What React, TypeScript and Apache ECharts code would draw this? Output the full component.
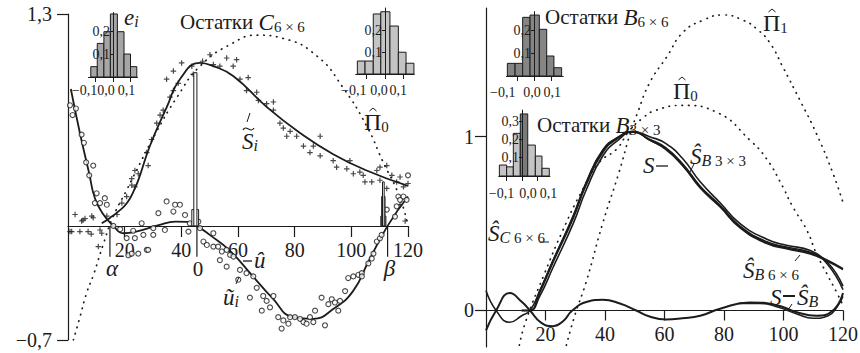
import React, { useEffect, useRef } from "react";
import * as echarts from "echarts";

const FONT = "'Liberation Serif', 'DejaVu Serif', 'Times New Roman', serif";
const INK = "#1c1c1c";

// ---------------- Left panel data ----------------
const leftXTicks = [20, 40, 60, 80, 100, 120];
const leftYTicks = [-0.7, 1.3];

const sHatLeftX = [11.9, 14.8, 17.6, 20.8, 23.6, 25.4, 28.9, 34.9, 39.5, 46.6, 51.3, 58.3, 70.1, 81.9, 93.6, 105.4, 120];
const sHatLeftY = [0.016, 0.049, 0.086, 0.14, 0.23, 0.31, 0.49, 0.73, 0.9, 1.0, 0.98, 0.92, 0.73, 0.57, 0.44, 0.34, 0.245];

const uHatX = [1, 4.2, 7.5, 9.5, 12.5, 16, 19.5, 24, 32, 38, 42, 45.4, 50, 57, 65.3, 72, 79.5, 86.5, 93.6, 100.6, 106, 112.8, 120];
const uHatY = [0.84, 0.57, 0.32, 0.17, 0.07, 0, -0.045, -0.035, 0.005, 0.026, 0.025, 0, -0.055, -0.15, -0.31, -0.44, -0.56, -0.57, -0.51, -0.4, -0.22, 0, 0.18];

const pi0LeftX = [1.9, 4.2, 6.6, 9, 12.5, 16, 20.7, 23, 31, 38.5, 46.6, 58, 66.7, 76, 88, 97, 105.5, 111, 117, 120];
const pi0LeftY = [-0.7, -0.56, -0.41, -0.3, -0.11, 0.06, 0.22, 0.3, 0.57, 0.79, 0.98, 1.12, 1.17, 1.15, 1.04, 0.85, 0.61, 0.4, 0.18, 0.0];

const sTildePoints = [
  [0.7, -0.035], [1.3, -0.035], [2.5, 0.07], [4.2, -0.035], [4.8, 0.03], [5.3, 0.035], [6, 0.045], [7.1, -0.035],
  [8.2, -0.05], [8.4, 0.06], [8.9, 0.05], [10.7, -0.127], [11.3, -0.025], [11.9, -0.045], [13.7, 0.06], [17.3, 0.07],
  [19, 0.14], [20.7, 0.18], [22.5, 0.25], [22.5, 0.29], [23.6, 0.24], [23.6, 0.34], [24.8, 0.32], [27.8, 0.45],
  [28.3, 0.37], [29.5, 0.53], [31.3, 0.63], [32.5, 0.68], [33.6, 0.71], [34.8, 0.9], [36, 0.79], [37.2, 0.83],
  [37.2, 0.95], [38.9, 0.875], [40.1, 1.0], [43.7, 0.98], [44.2, 0.93], [47.5, 1.01], [50.1, 1.05], [51.3, 0.99],
  [53.6, 0.98], [56, 1.03], [58.3, 0.98], [59.5, 1.02], [60.7, 0.9], [63, 0.83], [63.6, 0.91], [66.6, 0.82],
  [67.2, 0.77], [70.1, 0.75], [72.5, 0.76], [72.5, 0.71], [74.8, 0.63], [76, 0.6], [77.2, 0.55], [78.4, 0.58],
  [80.7, 0.55], [83.1, 0.49], [85.4, 0.45], [86.6, 0.49], [89, 0.55], [89, 0.43], [93.6, 0.4], [94.8, 0.36],
  [98.4, 0.35], [99.5, 0.4], [100.7, 0.32], [103, 0.33], [104.2, 0.31], [104.8, 0.27], [107.2, 0.27], [109, 0.34],
  [110.1, 0.36], [110.1, 0.28], [112.5, 0.37], [112.5, 0.23], [114.3, 0.31], [116, 0.27], [117.2, 0.3], [117.2, 0.13],
  [118.4, 0.24], [119, 0.03], [120, 0.26],
];

const uTildePoints = [
  [0.7, 0.74], [1.6, 0.68], [2.8, 0.72], [4.8, 0.56], [5.6, 0.51], [6.4, 0.39], [7.5, 0.31], [8.9, 0.37],
  [9.5, 0.14], [10.1, 0.2], [11.3, 0.14], [13, 0.17], [13.7, 0.13], [16, 0], [18.4, -0.02], [20.7, -0.075],
  [21.3, -0.18], [22.5, -0.17], [23, -0.03], [23.6, -0.075], [24.8, -0.17], [26, 0.016], [26.6, -0.055], [27.8, -0.147],
  [28.3, -0.147], [30.1, -0.055], [30.1, -0.014], [31.9, 0.078], [34.2, -0.025], [34.8, 0.15], [37.2, 0.088], [37.8, 0.13],
  [39.5, 0.13], [41.3, 0.067], [42.5, -0.035], [43, 0.016], [46, 0.026], [46.6, -0.014], [47.8, -0.096], [49, -0.117],
  [51.3, -0.045], [51.3, -0.127], [53, -0.127], [53.6, -0.21], [54.3, -0.157], [56, -0.147], [56, -0.25], [57.2, -0.178],
  [58.4, -0.188], [60.1, -0.33], [60.7, -0.27], [63, -0.29], [64.2, -0.44], [65.4, -0.31], [66.6, -0.38], [68.4, -0.52],
  [68.9, -0.43], [70.1, -0.46], [71.3, -0.5], [72.5, -0.43], [74.2, -0.56], [75.4, -0.63], [76, -0.58], [77.8, -0.6],
  [78.4, -0.56], [80.1, -0.56], [81.9, -0.57], [83.1, -0.59], [84.2, -0.6], [85.4, -0.56], [86.6, -0.59], [87.2, -0.52],
  [89.5, -0.44], [90.7, -0.61], [91.9, -0.48], [93.1, -0.45], [94.2, -0.47], [95.4, -0.52], [96, -0.46], [97.8, -0.4],
  [98.9, -0.32], [100.7, -0.31], [102.5, -0.3], [103.7, -0.29], [103.7, -0.31], [106, -0.23], [107.2, -0.2], [107.8, -0.17],
  [109, -0.096], [110.1, -0.076], [110.7, -0.055], [112.5, 0.1], [115.4, 0.057], [116, 0.12], [116.6, 0.18], [117.2, 0.16],
  [118.4, 0.18], [119.5, 0.16], [120, 0.31],
];

// spike bars: [x0, x1, height]
const spikeBars = [
  [43.7, 46.1, 0.1], [44.4, 45.5, 0.94],
  [110.4, 112.2, 0.06], [110.7, 111.9, 0.18], [111.0, 111.6, 0.27],
];
const markerX = [14.8, 45.5, 112.8];
const markerLabels = ["α", "0", "β"];

// ---------------- Right panel data ----------------
const rightXTicks = [20, 40, 60, 80, 100, 120];
const rightYTicks = [0, 1];

const bundleX = [14.8, 18, 22.6, 29.3, 33.6, 39.3, 44.7, 49.4, 55, 60.5, 66.3, 72, 78.7, 85.4, 94.4, 101, 109, 114.6, 120];
const sTrueY = [0, 0.11, 0.29, 0.54, 0.73, 0.92, 1.0, 1.03, 0.98, 0.93, 0.83, 0.71, 0.6, 0.48, 0.39, 0.36, 0.33, 0.29, 0.24];
const sB33Y = [0, 0.08, 0.25, 0.5, 0.69, 0.89, 0.985, 1.03, 1.0, 0.96, 0.87, 0.74, 0.62, 0.5, 0.41, 0.375, 0.345, 0.27, 0.12];
const sB66Y = [0, 0.1, 0.28, 0.53, 0.72, 0.91, 0.995, 1.025, 0.985, 0.935, 0.84, 0.715, 0.605, 0.485, 0.395, 0.365, 0.335, 0.28, 0.14];
const sC66StartX = [0, 3.4, 8, 12];
const sC66StartY = [0.115, 0, -0.068, -0.03];
const sC66Y = [0, 0.11, 0.29, 0.545, 0.735, 0.925, 1.0, 1.03, 0.98, 0.925, 0.83, 0.705, 0.595, 0.475, 0.385, 0.355, 0.325, 0.285, 0.235];

const residX = [0, 3.4, 8, 12, 14.8, 18.5, 22.6, 26, 29, 34, 39.3, 45, 50.5, 55, 60.5, 66, 72, 78.7, 88.7, 97.8, 104.5, 111, 116.6, 120];
const residY = [-0.115, 0, 0.1, 0.05, 0, -0.07, -0.09, -0.06, 0, 0.05, 0.062, 0.04, 0, -0.035, -0.052, -0.045, -0.03, 0.01, 0.046, 0.03, -0.01, -0.03, 0, 0.1];
const resid2X = [85, 92, 98, 104.5, 110, 115, 118, 120];
const resid2Y = [0.04, 0.04, 0.02, -0.02, -0.045, -0.03, 0.02, 0.08];

const pi0RightX = [11.2, 13.4, 19.6, 25.8, 32, 38, 44, 48, 52.9, 56.8, 66, 77.6, 88.7, 94.4, 99.8, 103, 107.9, 111, 114.6, 118, 120];
const pi0RightY = [-0.2, -0.06, 0.21, 0.46, 0.68, 0.85, 0.93, 1.03, 1.11, 1.15, 1.18, 1.14, 0.98, 0.87, 0.71, 0.6, 0.46, 0.33, 0.21, 0.1, 0.03];
const pi1RightX = [27, 30, 33.6, 39.2, 44.8, 48.5, 51, 55, 60.8, 66.2, 73, 79.7, 86.4, 91, 95.4, 99.8, 105.5, 111, 116.6, 120];
const pi1RightY = [-0.2, -0.02, 0.16, 0.5, 0.8, 1.02, 1.14, 1.31, 1.46, 1.6, 1.67, 1.7, 1.67, 1.62, 1.54, 1.4, 1.21, 1.02, 0.79, 0.62];

// ---------------- Inset histograms ----------------
const histTicks = [-0.1, 0, 0.1];
const histL1Edges = [-0.127, -0.09, -0.052, -0.015, 0.025, 0.063, 0.1, 0.136];
const histL1Heights = [0.045, 0.146, 0.197, 0.274, 0.197, 0.1, 0.045];
const histL2Edges = [-0.151, -0.109, -0.064, -0.023, 0.027, 0.073, 0.115, 0.158];
const histL2Heights = [0.059, 0.059, 0.273, 0.283, 0.218, 0.099, 0.049];
const histR1Edges = [-0.155, -0.11, -0.066, -0.023, 0.031, 0.074, 0.116, 0.161];
const histR1Heights = [0.055, 0.055, 0.255, 0.265, 0.203, 0.087, 0.036];
const histR2Edges = [-0.146, -0.099, -0.056, -0.011, 0.037, 0.086, 0.129, 0.176];
const histR2Heights = [0.06, 0.05, 0.233, 0.339, 0.169, 0.109, 0.042];

const zip = (xs: number[], ys: number[]) => xs.map((x, i) => [x, ys[i]]);
const fmtNum = (v: number) => (v < 0 ? "−" : "") + Math.abs(v).toFixed(1).replace(".", ",");

const RICH: any = {
  r: { fontFamily: FONT, fontSize: 21, fill: INK, lineHeight: 24 },
  p: { fontFamily: FONT, fontSize: 24, fill: INK, lineHeight: 24 },
  i: { fontFamily: FONT, fontSize: 23, fill: INK, fontStyle: "italic", lineHeight: 24 },
  s: { fontFamily: FONT, fontSize: 15, fill: INK, lineHeight: 12, verticalAlign: "bottom" },
  si: { fontFamily: FONT, fontSize: 16, fill: INK, fontStyle: "italic", lineHeight: 12, verticalAlign: "bottom" },
};

const txt = (x: number, y: number, text: string) => ({
  type: "text",
  x,
  y,
  z: 100,
  style: { text, rich: RICH, verticalAlign: "middle", align: "left", fill: INK, fontFamily: FONT, fontSize: 21 },
});
const seg = (x1: number, y1: number, x2: number, y2: number, w = 1) => ({
  type: "line",
  z: 100,
  shape: { x1, y1, x2, y2 },
  style: { stroke: INK, lineWidth: w },
});
const hat = (cx: number, cy: number, w = 7, h = 3) => ({
  type: "polyline",
  z: 100,
  shape: { points: [[cx - w / 2, cy + h], [cx, cy], [cx + w / 2, cy + h]] },
  style: { stroke: INK, lineWidth: 1, fill: "none" },
});

function mainAxes(gridIndex: number, xTicks: number[], yTicks: number[], yMin: number, yMax: number, yMargin: number, xMargin: number, tickLen: number, xOffset: number) {
  const x = {
    type: "value", gridIndex, min: 0, max: 120, position: "bottom", offset: xOffset,
    axisLine: { show: true, onZero: false, lineStyle: { color: INK, width: 1.2 } },
    axisTick: { show: true, customValues: xTicks, length: tickLen, lineStyle: { color: INK, width: 1.2 } },
    axisLabel: { customValues: xTicks, color: INK, fontFamily: FONT, fontSize: 20, margin: xMargin, hideOverlap: false },
    splitLine: { show: false },
  };
  const y = {
    type: "value", gridIndex, min: yMin, max: yMax,
    axisLine: { show: true, onZero: false, lineStyle: { color: INK, width: 1.2 } },
    axisTick: { show: true, customValues: yTicks, length: 11, lineStyle: { color: INK, width: 1.2 } },
    axisLabel: { customValues: yTicks, color: INK, fontFamily: FONT, fontSize: 20, margin: yMargin, hideOverlap: false, formatter: (v: number) => (Number.isInteger(v) ? String(v) : fmtNum(v)) },
    splitLine: { show: false },
  };
  return { x, y };
}

function insetAxes(gridIndex: number, xMin: number, xMax: number, yMax: number, yTicks: number[], yOffset: number) {
  const x = {
    type: "value", gridIndex, min: xMin, max: xMax,
    axisLine: { show: true, onZero: false, lineStyle: { color: INK, width: 1 } },
    axisTick: { show: true, customValues: histTicks, length: 5, lineStyle: { color: INK } },
    axisLabel: { show: false },
    splitLine: { show: false },
  };
  const y = {
    type: "value", gridIndex, min: 0, max: yMax, z: 10, position: "left", offset: yOffset,
    axisLine: { show: true, onZero: false, lineStyle: { color: INK, width: 1 } },
    axisTick: { show: true, customValues: yTicks, length: 3, lineStyle: { color: INK } },
    axisLabel: { customValues: yTicks, color: INK, fontFamily: FONT, fontSize: 14, margin: 3, hideOverlap: false, formatter: (v: number) => fmtNum(v) },
    splitLine: { show: false },
  };
  return { x, y };
}

// tick labels of an inset's x axis, placed through the inset's own scale (shift = per-label nudge in px)
function histTickLabels(idx: number, gap: number, shift: number[]) {
  return {
    type: "custom",
    xAxisIndex: idx,
    yAxisIndex: idx,
    z: 20,
    clip: false,
    silent: true,
    encode: { x: 0, y: 1 },
    data: histTicks.map((v) => [v, 0]),
    renderItem: (params: any, api: any) => {
      const v = api.value(0);
      const p = api.coord([v, 0]);
      return {
        type: "text",
        style: {
          text: fmtNum(v), x: p[0] + shift[params.dataIndex], y: p[1] + gap, align: "center", verticalAlign: "middle",
          fontFamily: FONT, fontSize: 14, fill: INK,
        },
      };
    },
  };
}

function histSeries(idx: number, edges: number[], heights: number[], fills: string[]) {
  return {
    type: "custom",
    xAxisIndex: idx,
    yAxisIndex: idx,
    z: 3,
    encode: { x: [0, 1], y: 2 },
    data: heights.map((h, i) => [edges[i], edges[i + 1], h]),
    renderItem: (params: any, api: any) => {
      const a = api.coord([api.value(0), 0]);
      const b = api.coord([api.value(1), api.value(2)]);
      return {
        type: "rect",
        shape: { x: a[0], y: b[1], width: b[0] - a[0], height: a[1] - b[1] },
        style: { fill: fills[params.dataIndex], stroke: INK, lineWidth: 1 },
      };
    },
  };
}

const solid = (idx: number, data: number[][], width = 1.8) => ({
  type: "line", xAxisIndex: idx, yAxisIndex: idx, data, smooth: 0.5, showSymbol: false, symbol: "none",
  lineStyle: { color: INK, width }, z: 4,
});
const dotted = (idx: number, data: number[][]) => ({
  type: "line", xAxisIndex: idx, yAxisIndex: idx, data, smooth: 0.5, showSymbol: false, symbol: "none",
  lineStyle: { color: INK, width: 1.7, type: [0.5, 6], cap: "round" }, z: 3,
});

export default function App() {
  const ref = useRef<HTMLDivElement>(null);
  useEffect(() => {
    if (!ref.current) return;
    const chart = echarts.init(ref.current, undefined, { renderer: "svg" });

    const L = mainAxes(0, leftXTicks, leftYTicks, -0.7, 1.3, 16, 14, 11, -114);
    const R = mainAxes(1, rightXTicks, rightYTicks, -0.21, 1.74, 12, 13, 10, -36.5);
    const L1 = insetAxes(2, -0.14, 0.14, 0.28, [0.1, 0.2], -24.5);
    const L2 = insetAxes(3, -0.16, 0.16, 0.3, [0.1, 0.2], -29.3);
    const R1 = insetAxes(4, -0.16, 0.17, 0.28, [0.1, 0.2], -27.5);
    const R2 = insetAxes(5, -0.15, 0.18, 0.36, [0.1, 0.2, 0.3], -23.25);

    const light = "#c4c4c4";
    const g = (left: number, right: number, top: number, bottom: number) => ({
      left, right, top, bottom, containLabel: false, outerBoundsMode: "none",
    });
    const option: any = {
      animation: false,
      backgroundColor: "#ffffff",
      grid: [
        g(68, 452, 14, 13),
        g(486, 17, 8, 6),
        g(88.5, 860 - 137.5, 12.6, 353 - 77),
        g(355.7, 860 - 414.3, 8, 353 - 74),
        g(506.5, 860 - 563.2, 11.6, 353 - 76),
        g(498.75, 860 - 549.9, 110.1, 353 - 176),
      ],
      xAxis: [L.x, R.x, L1.x, L2.x, R1.x, R2.x],
      yAxis: [L.y, R.y, L1.y, L2.y, R1.y, R2.y],
      series: [
        // left panel
        dotted(0, zip(pi0LeftX, pi0LeftY)),
        solid(0, zip(sHatLeftX, sHatLeftY)),
        solid(0, zip(uHatX, uHatY)),
        {
          type: "scatter", xAxisIndex: 0, yAxisIndex: 0, data: sTildePoints, z: 5,
          symbol: "path://M0,5L10,5M5,0L5,10", symbolSize: 5.5,
          itemStyle: { color: "rgba(0,0,0,0)", borderColor: INK, borderWidth: 1.2 },
        },
        {
          type: "scatter", xAxisIndex: 0, yAxisIndex: 0, data: uTildePoints, z: 5,
          symbol: "circle", symbolSize: 5,
          itemStyle: { color: "#ffffff", borderColor: INK, borderWidth: 1.1 },
        },
        {
          type: "custom", xAxisIndex: 0, yAxisIndex: 0, z: 6, encode: { x: [0, 1], y: 2 },
          data: spikeBars,
          renderItem: (params: any, api: any) => {
            const a = api.coord([api.value(0), 0]);
            const b = api.coord([api.value(1), api.value(2)]);
            return {
              type: "rect",
              shape: { x: a[0], y: b[1], width: b[0] - a[0], height: a[1] - b[1] },
              style: { fill: "#ffffff", stroke: INK, lineWidth: 1 },
            };
          },
        },
        {
          type: "custom", xAxisIndex: 0, yAxisIndex: 0, z: 6, encode: { x: 0, y: 1 },
          data: markerX.map((x) => [x, 0]),
          renderItem: (params: any, api: any) => {
            const a = api.coord([api.value(0), 0]);
            const b = api.coord([api.value(0), -0.19]);
            const lab = markerLabels[params.dataIndex];
            return {
              type: "group",
              children: [
                { type: "line", shape: { x1: a[0], y1: a[1], x2: b[0], y2: b[1] }, style: { stroke: INK, lineWidth: 1.2 } },
                {
                  type: "text",
                  style: {
                    text: lab, x: b[0] + (lab === "0" ? 1 : 2), y: b[1] + 12, align: "center", verticalAlign: "middle",
                    fontFamily: FONT, fontSize: lab === "0" ? 21 : 23, fontStyle: lab === "0" ? "normal" : "italic", fill: INK,
                  },
                },
              ],
            };
          },
        },
        // right panel
        dotted(1, zip(pi0RightX, pi0RightY)),
        dotted(1, zip(pi1RightX, pi1RightY)),
        solid(1, [[12, 0], ...zip(bundleX, sTrueY)], 1.6),
        solid(1, [[12, 0], ...zip(bundleX, sB33Y)], 1.6),
        solid(1, [[12, 0], ...zip(bundleX, sB66Y)], 1.6),
        solid(1, [...zip(sC66StartX, sC66StartY), ...zip(bundleX, sC66Y)], 1.6),
        solid(1, zip(residX, residY), 2),
        solid(1, zip(resid2X, resid2Y), 1.5),
        // insets
        histSeries(2, histL1Edges, histL1Heights, histL1Heights.map(() => "#a6a6a6")),
        histSeries(3, histL2Edges, histL2Heights, histL2Heights.map(() => light)),
        histSeries(4, histR1Edges, histR1Heights, histR1Heights.map(() => "#858585")),
        histSeries(5, histR2Edges, histR2Heights, histR2Heights.map((_, i) => (i === 3 ? "#7a7a7a" : light))),
        histTickLabels(2, 13, [-11, -7, -4]),
        histTickLabels(3, 16, [-13, -6, -5]),
        histTickLabels(4, 16, [-14, -2, 1]),
        histTickLabels(5, 17, [-5, 6, 11]),
      ],
      graphic: [
        // left annotations
        txt(180, 22, "{r|Остатки }{i|C}{s|6 × 6}"),
        txt(124, 17, "{i|e}{si|i}"),
        txt(242, 141, "{i|S}{si|i}"),
        {
          type: "bezierCurve", z: 100,
          shape: { x1: 243, y1: 130, x2: 254, y2: 128, cpx1: 246, cpy1: 124, cpx2: 251, cpy2: 134 },
          style: { stroke: INK, lineWidth: 1.2, fill: "none" },
        },
        seg(247, 122, 250, 113),
        txt(364, 122, "{p|Π}{s|0}"),
        hat(373, 108),
        txt(254, 260, "{i|û}"),
        seg(243, 261, 252, 261, 1.3),
        txt(223, 297, "{i|ũ}{si|i}"),
        seg(236, 284, 239, 277),
        // right annotations
        txt(545, 17, "{r|Остатки }{i|B}{s|6 × 6}"),
        txt(537, 125, "{r|Остатки }{i|B}{s|3 × 3}"),
        txt(763, 23, "{p|Π}{s|1}"),
        hat(772, 9),
        txt(673, 91, "{p|Π}{s|0}"),
        hat(682, 77),
        txt(643, 165, "{i|S}"),
        seg(656, 166, 668, 166, 1.3),
        txt(690, 156, "{i|Ŝ}{si|B}{s| 3 × 3}"),
        seg(694, 164, 690, 172),
        txt(488, 233, "{i|Ŝ}{si|C}{s| 6 × 6}"),
        seg(540, 242, 549, 242),
        txt(743, 270, "{i|Ŝ}{si|B}{s| 6 × 6}"),
        seg(795, 261, 800, 255),
        txt(770, 297, "{i|S}"),
        seg(783, 296, 795, 296, 2),
        txt(797, 297, "{i|Ŝ}{si|B}"),
        seg(788, 310, 792, 304),
      ],
    };
    chart.setOption(option);
    return () => chart.dispose();
  }, []);
  return (
    <div
      ref={ref}
      style={{ position: "fixed", left: 0, top: 0, width: 860, height: 353, background: "#fff" }}
    />
  );
}
